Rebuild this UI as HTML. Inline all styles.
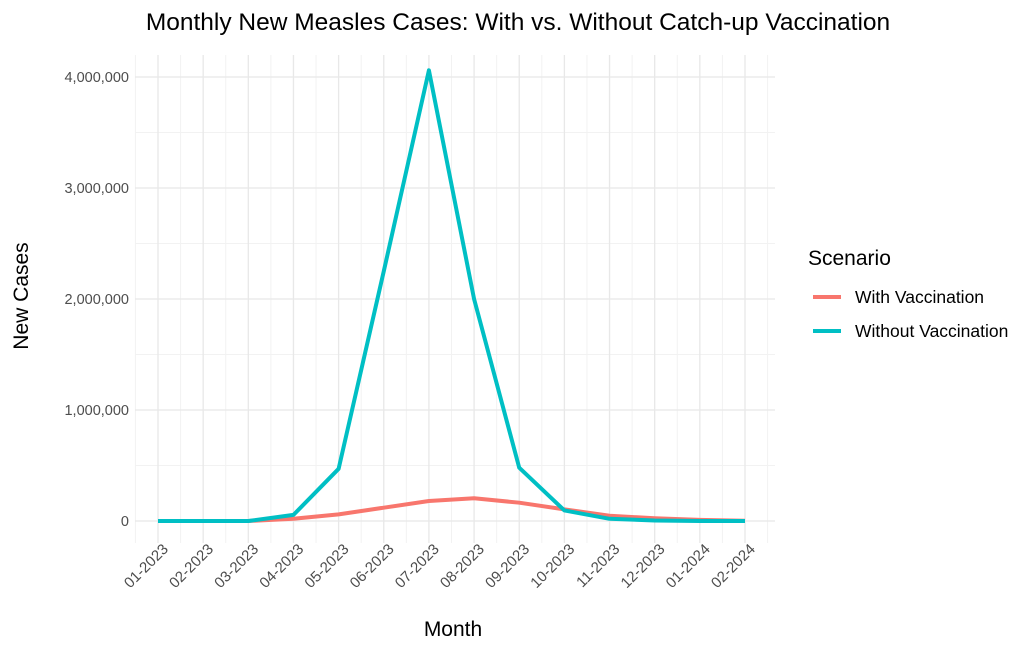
<!DOCTYPE html>
<html><head><meta charset="utf-8"><style>
body{margin:0;background:#fff;font-family:"Liberation Sans",Arial,sans-serif}
</style></head><body>
<svg id="c" width="1035" height="651" xmlns="http://www.w3.org/2000/svg">
<rect width="1035" height="651" fill="#fff"/>
<text x="518" y="30" text-anchor="middle" font-size="24.5" fill="#000">Monthly New Measles Cases: With vs. Without Catch-up Vaccination</text>
<g id="grid"></g><g id="axes"></g><g id="lines"></g>
<text x="453" y="636" text-anchor="middle" font-size="21" fill="#000">Month</text>
<text transform="translate(28,296) rotate(-90)" text-anchor="middle" font-size="21" fill="#000">New Cases</text>
<g>
<text x="808" y="265" font-size="21" fill="#000">Scenario</text>
<g><line x1="813" x2="841" y1="297" y2="297" stroke="#F8766D" stroke-width="4"/><text x="855" y="303" font-size="17.5" fill="#000">With Vaccination</text></g>
<g><line x1="813" x2="841" y1="331" y2="331" stroke="#00BFC4" stroke-width="4"/><text x="855" y="337" font-size="17.5" fill="#000">Without Vaccination</text></g>
</g>
</svg>
<script>
const months=["01-2023","02-2023","03-2023","04-2023","05-2023","06-2023","07-2023","08-2023","09-2023","10-2023","11-2023","12-2023","01-2024","02-2024"];
const withVacc=[0,0,0,20000,60000,120000,180000,205000,165000,105000,47000,25000,10000,2000];
const withoutVacc=[0,0,0,55000,470000,2250000,4060000,2000000,480000,95000,20000,5000,0,0];
const yTicks=[0,1000000,2000000,3000000,4000000];
const yTickLabels=["0","1,000,000","2,000,000","3,000,000","4,000,000"];
const ns="http://www.w3.org/2000/svg";
const L=135,R=775,T=55,B=543;
const x0=158,dx=(745-158)/13;
const X=i=>x0+i*dx;
const Y=v=>521-v*111/1000000;
function mk(tag,attrs,parent){const e=document.createElementNS(ns,tag);for(const k in attrs)e.setAttribute(k,attrs[k]);parent.appendChild(e);return e;}
const grid=document.getElementById('grid'),axes=document.getElementById('axes'),lines=document.getElementById('lines');
for(let k=0;k<yTicks.length;k++){const v=yTicks[k]+500000;const y=Y(v);if(y>T){const g=mk('line',{x1:L,x2:R,y1:y,y2:y,stroke:'#f2f2f2','stroke-width':1},grid);

}}
for(let i=-1;i<months.length;i++){const x=X(i)+dx/2;if(x>L&&x<R){const g=mk('line',{x1:x,x2:x,y1:T,y2:B,stroke:'#f2f2f2','stroke-width':1},grid);

}}
yTicks.forEach((v,k)=>{const y=Y(v);const g=mk('line',{x1:L,x2:R,y1:y,y2:y,stroke:'#e8e8e8','stroke-width':1.3},grid);


const t=mk('text',{x:129,y:y+5,'text-anchor':'end','font-size':14.5,fill:'#4d4d4d'},axes);t.textContent=yTickLabels[k];

});
months.forEach((m,i)=>{const x=X(i);const g=mk('line',{x1:x,x2:x,y1:T,y2:B,stroke:'#e8e8e8','stroke-width':1.3},grid);


const t=mk('text',{transform:`translate(${x+11},${B+7}) rotate(-45)`,'text-anchor':'end','font-size':15,fill:'#4d4d4d'},axes);t.textContent=m;

});
function series(vals,color,name){const p=vals.map((v,i)=>X(i)+','+Y(v)).join(' ');const e=mk('polyline',{points:p,fill:'none',stroke:color,'stroke-width':4,'stroke-linejoin':'round'},lines);

}
series(withVacc,'#F8766D','line-with-vaccination');
series(withoutVacc,'#00BFC4','line-without-vaccination');
</script>
</body></html>
